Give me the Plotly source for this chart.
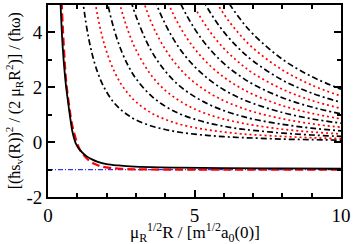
import plotly.graph_objects as go

# ---- data ----
X_GROUND_SOLID = [0.40, 0.43, 0.50, 0.60, 0.68, 0.75, 0.84, 0.95, 1.10, 1.30, 1.50, 1.70, 2.00, 2.40, 2.80, 3.50, 4.50, 6.00, 8.00, 10.0]
E_GROUND_SOLID = [6.00, 5.00, 3.50, 2.20, 1.50, 0.95, 0.35, -0.05, -0.30, -0.50, -0.63, -0.72, -0.80, -0.85, -0.88, -0.91, -0.93, -0.95, -0.96, -0.97]

X_GROUND_DASH = [0.44, 0.47, 0.55, 0.63, 0.73, 0.80, 0.90, 1.00, 1.10, 1.24, 1.40, 1.60, 1.80, 2.10, 2.50, 3.00, 4.00, 6.00, 10.0]
E_GROUND_DASH = [6.00, 5.00, 3.30, 2.10, 1.27, 0.75, 0.30, -0.05, -0.30, -0.50, -0.67, -0.80, -0.88, -0.94, -0.97, -0.99, -1.00, -1.00, -1.00]

X_LIMIT = [0.0, 10.0]
E_LIMIT = [-1.0, -1.0]

X_FAN = [1.0, 1.2, 1.4, 1.6, 1.8, 2.0, 2.25, 2.5, 2.75, 3.0, 3.5, 4.0, 4.5, 5.0, 5.5, 6.0, 6.5, 7.0, 8.0, 9.0, 10.0]
N = None
E_FAN_0 = [7.30, 5.07, 3.72, 2.85, 2.25, 1.83, 1.44, 1.17, 0.97, 0.81, 0.60, 0.46, 0.36, 0.29, 0.24, 0.20, 0.17, 0.15, 0.11, 0.09, 0.07]
E_FAN_1 = [N, N, 6.73, 5.16, 4.07, 3.30, 2.61, 2.11, 1.75, 1.47, 1.08, 0.83, 0.65, 0.53, 0.44, 0.37, 0.31, 0.27, 0.21, 0.16, 0.13]
E_FAN_2 = [N, N, N, N, 6.45, 5.23, 4.13, 3.34, 2.76, 2.32, 1.71, 1.31, 1.03, 0.84, 0.69, 0.58, 0.49, 0.43, 0.33, 0.26, 0.21]
E_FAN_3 = [N, N, N, N, N, N, 5.99, 4.85, 4.01, 3.37, 2.47, 1.89, 1.50, 1.21, 1.00, 0.84, 0.72, 0.62, 0.47, 0.37, 0.30]
E_FAN_4 = [N, N, N, N, N, N, N, 6.62, 5.47, 4.60, 3.38, 2.59, 2.04, 1.66, 1.37, 1.15, 0.98, 0.84, 0.65, 0.51, 0.41]
E_FAN_5 = [N, N, N, N, N, N, N, N, N, 6.03, 4.43, 3.39, 2.68, 2.17, 1.80, 1.51, 1.29, 1.11, 0.85, 0.67, 0.54]
E_FAN_6 = [N, N, N, N, N, N, N, N, N, 7.66, 5.62, 4.31, 3.40, 2.76, 2.28, 1.91, 1.63, 1.41, 1.08, 0.85, 0.69]
E_FAN_7 = [N, N, N, N, N, N, N, N, N, N, 6.96, 5.33, 4.21, 3.41, 2.82, 2.37, 2.02, 1.74, 1.33, 1.05, 0.85]
E_FAN_8 = [N, N, N, N, N, N, N, N, N, N, N, 6.46, 5.11, 4.14, 3.42, 2.87, 2.45, 2.11, 1.62, 1.28, 1.03]
E_FAN_9 = [N, N, N, N, N, N, N, N, N, N, N, N, 6.08, 4.93, 4.07, 3.42, 2.92, 2.51, 1.93, 1.52, 1.23]
E_FAN_10 = [N, N, N, N, N, N, N, N, N, N, N, N, N, 5.79, 4.79, 4.02, 3.43, 2.96, 2.26, 1.79, 1.45]
E_FAN_11 = [N, N, N, N, N, N, N, N, N, N, N, N, N, N, 5.56, 4.67, 3.98, 3.43, 2.63, 2.08, 1.68]
E_FAN_12 = [N, N, N, N, N, N, N, N, N, N, N, N, N, N, 6.39, 5.37, 4.57, 3.94, 3.02, 2.39, 1.93]
FAN = [E_FAN_0, E_FAN_1, E_FAN_2, E_FAN_3, E_FAN_4, E_FAN_5, E_FAN_6,
       E_FAN_7, E_FAN_8, E_FAN_9, E_FAN_10, E_FAN_11, E_FAN_12]

X_TICKS = [0, 5, 10]
Y_TICKS = [-2, 0, 2, 4]

FONT = "Times New Roman, Liberation Serif, serif"

fig = go.Figure()
for i, ys in enumerate(FAN):
    if i % 2 == 0:
        line = dict(color="black", width=1.7, dash="6px,3px,2px,3px", shape="spline")
    else:
        line = dict(color="#ff0000", width=1.7, dash="2px,3px", shape="spline")
    fig.add_trace(go.Scatter(x=X_FAN, y=ys, mode="lines", line=line,
                             connectgaps=False, hoverinfo="skip"))

fig.add_trace(go.Scatter(x=X_LIMIT, y=E_LIMIT, mode="lines",
                         line=dict(color="#3030ff", width=1.2, dash="5px,2px,1px,2px")))
fig.add_trace(go.Scatter(x=X_GROUND_DASH, y=E_GROUND_DASH, mode="lines",
                         line=dict(color="#ff0000", width=2.2, dash="8px,4px", shape="spline")))
fig.add_trace(go.Scatter(x=X_GROUND_SOLID, y=E_GROUND_SOLID, mode="lines",
                         line=dict(color="black", width=1.8, shape="spline")))

axis_common = dict(showline=True, linecolor="black", linewidth=1.8, mirror="ticks",
                   ticks="inside", ticklen=7, tickwidth=1.5, tickcolor="black",
                   showgrid=False, zeroline=False, ticklabelstandoff=0,
                   tickfont=dict(family=FONT, size=19, color="black"))

fig.update_xaxes(range=[0, 10], tickvals=X_TICKS, ticktext=[str(v) for v in X_TICKS],
                 minor=dict(dtick=1, ticks="inside", ticklen=4, tickwidth=1.5, tickcolor="black"),
                 **axis_common)
fig.update_yaxes(range=[-2, 5], tickvals=Y_TICKS, ticktext=[str(v) for v in Y_TICKS],
                 minor=dict(dtick=1, ticks="inside", ticklen=4, tickwidth=1.5, tickcolor="black"),
                 **axis_common)

fig.add_annotation(text="μ<sub>R</sub><sup>1/2</sup>R / [m<sup>1/2</sup>a<sub>0</sub>(0)]",
                   xref="paper", yref="paper", x=0.5, y=-0.185, showarrow=False,
                   font=dict(family=FONT, size=17, color="black"), yanchor="middle")
fig.add_annotation(text="[(ħs<sub>v</sub>(R))<sup>2</sup> / (2 μ<sub>R</sub>R<sup>2</sup>)] / (ħω)",
                   xref="paper", yref="paper", x=-0.115, y=0.5, showarrow=False, textangle=-90,
                   font=dict(family=FONT, size=16, color="black"), xanchor="center", yanchor="middle")

fig.update_layout(width=354, height=244, margin=dict(l=48, r=10, t=3, b=47),
                  paper_bgcolor="white", plot_bgcolor="white", showlegend=False,
                  font=dict(family=FONT))

fig.write_html("out.html", config={"displayModeBar": False},
               post_script="document.body.style.margin='0';document.body.style.padding='0';")
